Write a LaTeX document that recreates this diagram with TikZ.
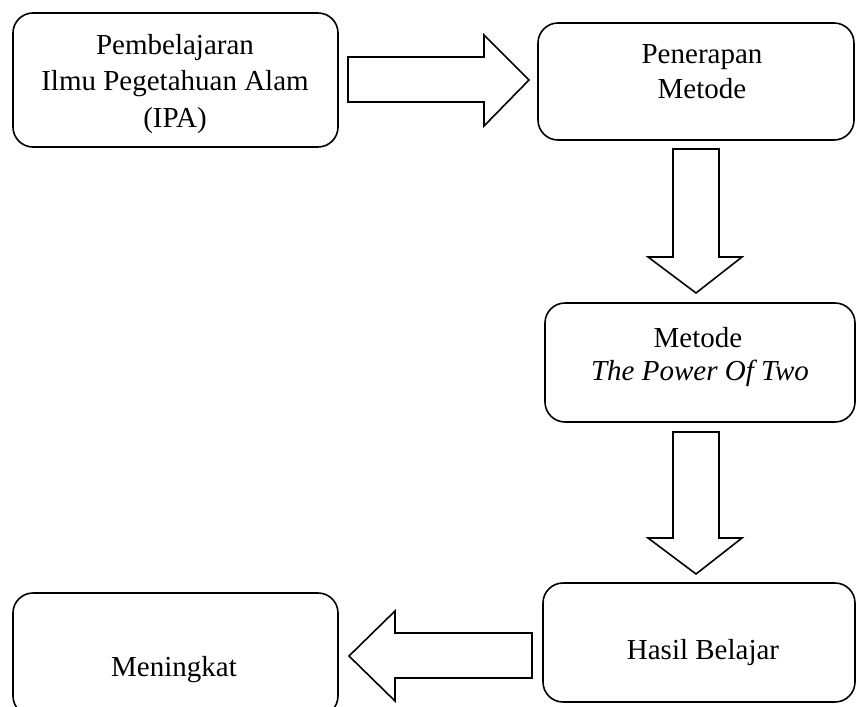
\documentclass[tikz,border=0pt]{standalone}
\usepackage{fontspec}
\setmainfont{Liberation Serif}
\begin{document}
\begin{tikzpicture}[x=1pt,y=-1pt,
  box/.style={draw=black,line width=1.6pt,rounded corners=20pt,rectangle,inner sep=0pt},
  blockarrow/.style={draw=black,line width=1.6pt,fill=white,line join=miter},
  lbl/.style={anchor=base,inner sep=0pt,font=\fontsize{29}{35}\selectfont}]
\useasboundingbox (0,0) rectangle (858,706);
\clip (0,0) rectangle (858,706);
% boxes
\node[box,minimum width=325pt,minimum height=134pt] (n1) at (175.5,80) {};
\node[box,minimum width=316pt,minimum height=117pt] (n2) at (696,81.5) {};
\node[box,minimum width=310pt,minimum height=119pt] (n3) at (700,362.5) {};
\node[box,minimum width=312pt,minimum height=119pt] (n4) at (699,642.5) {};
\node[box,minimum width=325pt,minimum height=123pt] (n5) at (175.5,654.5) {};
% texts
\node[lbl] (t1a) at (175,55) {Pembelajaran};
\node[lbl] (t1b) at (175,91) {Ilmu Pegetahuan Alam};
\node[lbl] (t1c) at (175,128) {(IPA)};
\node[lbl] (t2a) at (702,64) {Penerapan};
\node[lbl] (t2b) at (702,99) {Metode};
\node[lbl] (t3a) at (698,347) {Metode};
\node[lbl] (t3b) at (700,380) {\itshape The Power Of Two};
\node[lbl] (t4) at (703,659) {Hasil Belajar};
\node[lbl] (t5) at (174,676) {Meningkat};
% block arrows
\draw[blockarrow] (348,57) -- (484,57) -- (484,35) -- (529,80) -- (484,126) -- (484,102) -- (348,102) -- cycle;
\draw[blockarrow] (673,149) -- (719,149) -- (719,257) -- (742,257) -- (696,293) -- (648,257) -- (673,257) -- cycle;
\draw[blockarrow] (673,432) -- (719,432) -- (719,538) -- (742,538) -- (696,574) -- (648,538) -- (673,538) -- cycle;
\draw[blockarrow] (532,633) -- (395,633) -- (395,611) -- (349,656) -- (395,701) -- (395,678) -- (532,678) -- cycle;
\end{tikzpicture}
\end{document}
